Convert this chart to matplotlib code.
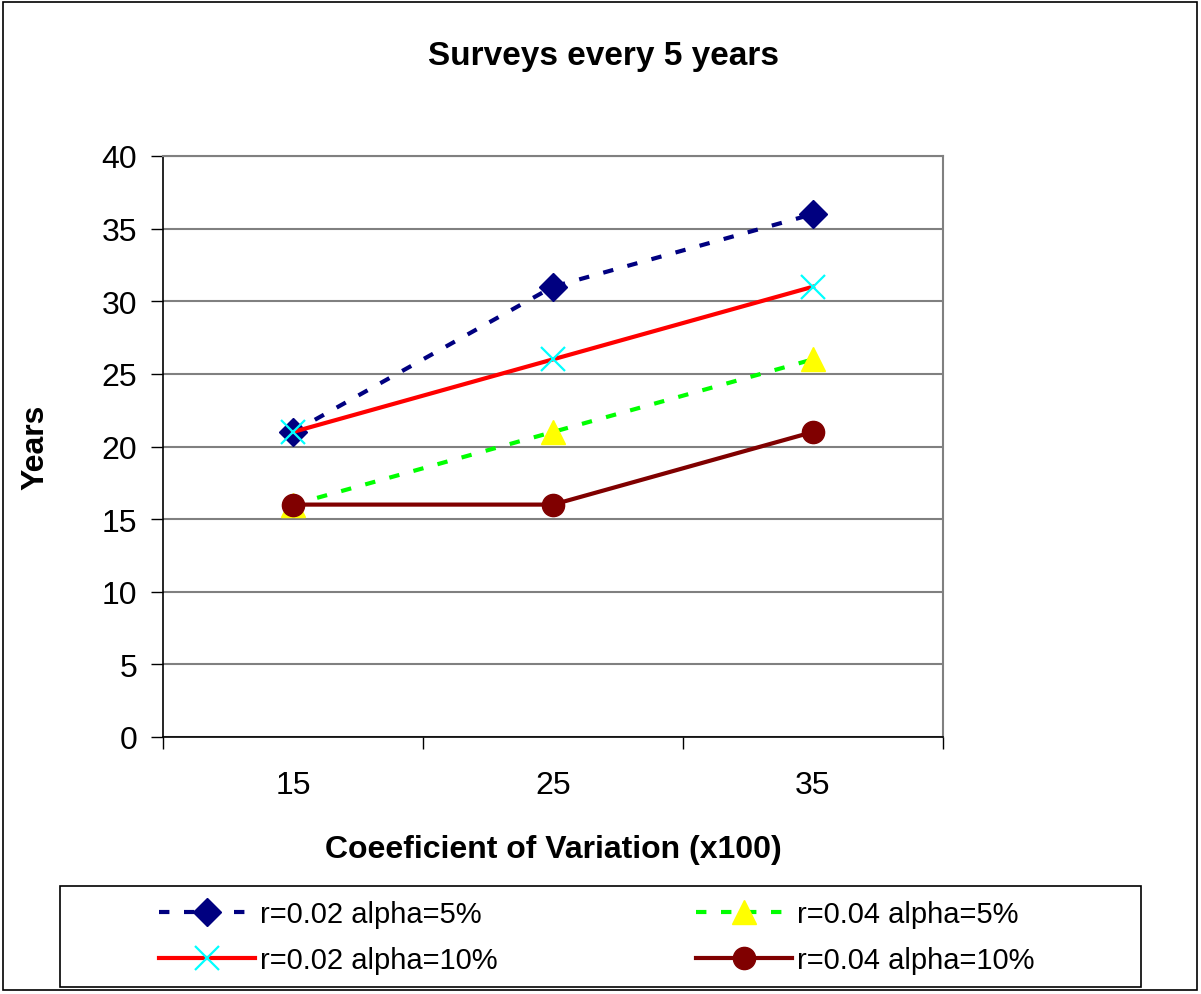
import matplotlib
matplotlib.use('Agg')
import matplotlib.pyplot as plt
from matplotlib.patches import Rectangle

plt.rcParams['font.family'] = ['Liberation Sans', 'DejaVu Sans']

# ---- data ----
cv_labels = ['15', '25', '35']
r02_a05 = [21, 31, 36]
r04_a05 = [16, 21, 26]
r02_a10 = [21, 26, 31]
r04_a10 = [16, 16, 21]

W, H = 1201, 995
fig = plt.figure(figsize=(W / 100, H / 100), dpi=100)
ax = fig.add_axes([163 / W, 1 - 738 / H, 780 / W, 581 / H])

x = range(len(cv_labels))
l1, = ax.plot(x, r02_a05, color='#000080', lw=3, dashes=(2.5, 3.5),
              marker='D', ms=14, mfc='#000080', mec='#000080',
              label='r=0.02 alpha=5%', zorder=3)
l2, = ax.plot(x, r04_a05, color='#00FF00', lw=3, dashes=(2.5, 3.5),
              marker='^', ms=17, mfc='#FFFF00', mec='#FFFF00',
              label='r=0.04 alpha=5%', zorder=3)
l3, = ax.plot(x, r02_a10, color='#FF0000', lw=3,
              marker='x', ms=17, mew=1.6, mec='#00FFFF',
              label='r=0.02 alpha=10%', zorder=3)
l4, = ax.plot(x, r04_a10, color='#800000', lw=3,
              marker='o', ms=16, mfc='#800000', mec='#800000',
              label='r=0.04 alpha=10%', zorder=3)

ax.set_xlim(-0.5, 2.5)
ax.set_ylim(0, 40)
ax.set_yticks(range(0, 41, 5))
ax.set_xticks(list(x))
ax.set_xticklabels(cv_labels)
ax.set_xticks([-0.5, 0.5, 1.5, 2.5], minor=True)
ax.tick_params(axis='x', which='major', length=0, pad=24, labelsize=23)
ax.tick_params(axis='x', which='minor', length=8.6, width=1, direction='out')
ax.tick_params(axis='y', length=8.6, width=1, direction='out', pad=10, labelsize=23)

ax.grid(axis='y', color='#808080', lw=1.5, zorder=1)
for s in ['top', 'right']:
    ax.spines[s].set_color('#808080')
    ax.spines[s].set_linewidth(1.5)
for s in ['left', 'bottom']:
    ax.spines[s].set_color('black')
    ax.spines[s].set_linewidth(1.2)

fig.text(604 / W, 1 - 57 / H, 'Surveys every 5 years', ha='center', va='center',
         fontsize=24, fontweight='bold')
fig.text(553 / W, 1 - 850 / H, 'Coeeficient of Variation (x100)', ha='center',
         va='center', fontsize=23, fontweight='bold')
fig.text(35 / W, 1 - 447 / H, 'Years', ha='center', va='center', rotation=90,
         fontsize=23, fontweight='bold')

# legend box + legend (row-major like the original)
fig.patches.append(Rectangle((60 / W, 1 - 988 / H), 1081 / W, 101 / H,
                             transform=fig.transFigure, fill=False,
                             edgecolor='black', lw=1.2))
fig.legend([l1, l3, l2, l4], [l.get_label() for l in (l1, l3, l2, l4)],
           loc='center', bbox_to_anchor=(597 / W, 1 - 938 / H), ncol=2,
           frameon=False, fontsize=21, handlelength=3.3, handletextpad=0.17,
           columnspacing=6.8, labelspacing=0.6, borderpad=0)

# outer chart border
fig.patches.append(Rectangle((3 / W, 4 / H), 1194 / W, 988 / H,
                             transform=fig.transFigure, fill=False,
                             edgecolor='black', lw=1.2))

fig.savefig('out.png', dpi=100, facecolor='white')
